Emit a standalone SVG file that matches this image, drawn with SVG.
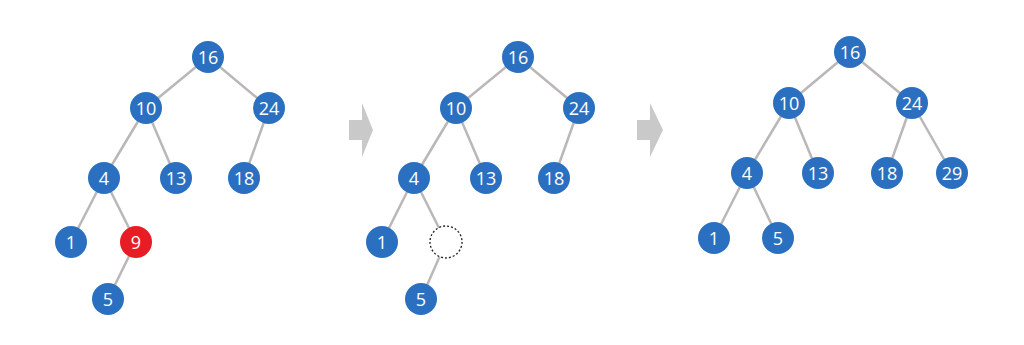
<svg xmlns="http://www.w3.org/2000/svg" width="1024" height="345" viewBox="0 0 1024 345">
<style>
.e{stroke:#bcb7b7;stroke-width:2.5;fill:none}
.n{fill:#2b70c0}
.r{fill:#e81c24}
.d{fill:#fff;stroke:#222;stroke-width:1.3;stroke-dasharray:2 2}
.t{fill:#fff;font-family:"Open Sans","Noto Sans",sans-serif;font-size:18px;text-anchor:middle;dominant-baseline:central}
.a{fill:#c9c9c9}
</style>
<rect width="1024" height="345" fill="#fff"/>
<g id="connectors">
<line class="e" x1="208" y1="57" x2="146" y2="108"/>
<line class="e" x1="208" y1="57" x2="269" y2="108"/>
<line class="e" x1="146" y1="108" x2="104" y2="178"/>
<line class="e" x1="146" y1="108" x2="176" y2="178"/>
<line class="e" x1="269" y1="108" x2="244" y2="178"/>
<line class="e" x1="104" y1="178" x2="71" y2="242"/>
<line class="e" x1="104" y1="178" x2="136" y2="242"/>
<line class="e" x1="136" y1="242" x2="108" y2="299"/>
<line class="e" x1="518" y1="57" x2="456" y2="108"/>
<line class="e" x1="518" y1="57" x2="579" y2="108"/>
<line class="e" x1="456" y1="108" x2="414" y2="178"/>
<line class="e" x1="456" y1="108" x2="486" y2="178"/>
<line class="e" x1="579" y1="108" x2="554" y2="178"/>
<line class="e" x1="414" y1="178" x2="382" y2="242"/>
<line class="e" x1="414" y1="178" x2="446" y2="242"/>
<line class="e" x1="446" y1="242" x2="421" y2="299"/>
<line class="e" x1="850" y1="52" x2="789" y2="103"/>
<line class="e" x1="850" y1="52" x2="912" y2="103"/>
<line class="e" x1="789" y1="103" x2="747" y2="173"/>
<line class="e" x1="789" y1="103" x2="818" y2="173"/>
<line class="e" x1="912" y1="103" x2="887" y2="173"/>
<line class="e" x1="912" y1="103" x2="952" y2="173"/>
<line class="e" x1="747" y1="173" x2="714" y2="238"/>
<line class="e" x1="747" y1="173" x2="778" y2="238"/>
</g>
<g id="arrow1"><polygon class="a" points="349,120 362,120 362,103 373,130 362,157 362,140 349,140"/></g>
<g id="arrow2"><polygon class="a" points="637,120 650,120 650,103 663,130 650,157 650,140 637,140"/></g>
<g id="p1-16"><circle class="n" cx="208" cy="57" r="16"/><text class="t" x="208" y="57">16</text></g>
<g id="p1-10"><circle class="n" cx="146" cy="108" r="16"/><text class="t" x="146" y="108">10</text></g>
<g id="p1-24"><circle class="n" cx="269" cy="108" r="16"/><text class="t" x="269" y="108">24</text></g>
<g id="p1-4"><circle class="n" cx="104" cy="178" r="16"/><text class="t" x="104" y="178">4</text></g>
<g id="p1-13"><circle class="n" cx="176" cy="178" r="16"/><text class="t" x="176" y="178">13</text></g>
<g id="p1-18"><circle class="n" cx="244" cy="178" r="16"/><text class="t" x="244" y="178">18</text></g>
<g id="p1-1"><circle class="n" cx="71" cy="242" r="16"/><text class="t" x="71" y="242">1</text></g>
<g id="p1-9"><circle class="r" cx="136" cy="242" r="16"/><text class="t" x="136" y="242">9</text></g>
<g id="p1-5"><circle class="n" cx="108" cy="299" r="16"/><text class="t" x="108" y="299">5</text></g>
<g id="p2-16"><circle class="n" cx="518" cy="57" r="16"/><text class="t" x="518" y="57">16</text></g>
<g id="p2-10"><circle class="n" cx="456" cy="108" r="16"/><text class="t" x="456" y="108">10</text></g>
<g id="p2-24"><circle class="n" cx="579" cy="108" r="16"/><text class="t" x="579" y="108">24</text></g>
<g id="p2-4"><circle class="n" cx="414" cy="178" r="16"/><text class="t" x="414" y="178">4</text></g>
<g id="p2-13"><circle class="n" cx="486" cy="178" r="16"/><text class="t" x="486" y="178">13</text></g>
<g id="p2-18"><circle class="n" cx="554" cy="178" r="16"/><text class="t" x="554" y="178">18</text></g>
<g id="p2-1"><circle class="n" cx="382" cy="242" r="16"/><text class="t" x="382" y="242">1</text></g>
<g id="p2-empty"><circle class="d" cx="446" cy="242" r="16"/></g>
<g id="p2-5"><circle class="n" cx="421" cy="299" r="16"/><text class="t" x="421" y="299">5</text></g>
<g id="p3-16"><circle class="n" cx="850" cy="52" r="16"/><text class="t" x="850" y="52">16</text></g>
<g id="p3-10"><circle class="n" cx="789" cy="103" r="16"/><text class="t" x="789" y="103">10</text></g>
<g id="p3-24"><circle class="n" cx="912" cy="103" r="16"/><text class="t" x="912" y="103">24</text></g>
<g id="p3-4"><circle class="n" cx="747" cy="173" r="16"/><text class="t" x="747" y="173">4</text></g>
<g id="p3-13"><circle class="n" cx="818" cy="173" r="16"/><text class="t" x="818" y="173">13</text></g>
<g id="p3-18"><circle class="n" cx="887" cy="173" r="16"/><text class="t" x="887" y="173">18</text></g>
<g id="p3-29"><circle class="n" cx="952" cy="173" r="16"/><text class="t" x="952" y="173">29</text></g>
<g id="p3-1"><circle class="n" cx="714" cy="238" r="16"/><text class="t" x="714" y="238">1</text></g>
<g id="p3-5"><circle class="n" cx="778" cy="238" r="16"/><text class="t" x="778" y="238">5</text></g>
</svg>
